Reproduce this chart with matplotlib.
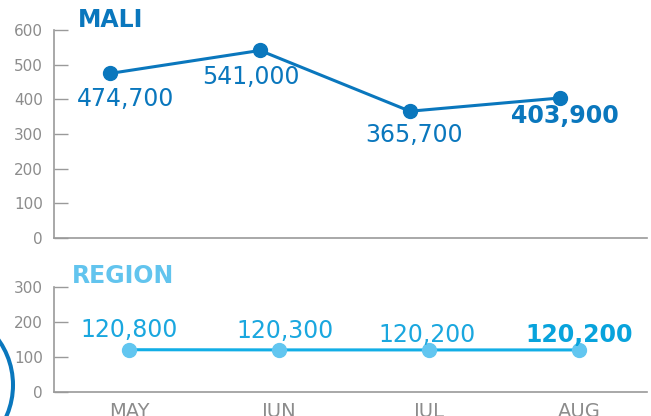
import matplotlib
matplotlib.use("Agg")
import matplotlib.pyplot as plt
from matplotlib.patches import Circle

plt.rcParams["font.family"] = "DejaVu Sans"

# data (thousands of people)
months = ["MAY", "JUN", "JUL", "AUG"]
mali = [474.7, 541.0, 365.7, 403.9]
region = [120.8, 120.3, 120.2, 120.2]
mali_ticks = [0, 100, 200, 300, 400, 500, 600]
region_ticks = [0, 100, 200, 300]

# label offsets in points (dx, dy) from each marker
mali_off = [(11.5, -18.4), (-6.5, -19.2), (2.9, -17.1), (3.6, -13.0)]
region_off = [(0, 14.2), (4.3, 13.4), (-1.4, 10.8), (0, 10.8)]

dark_blue = "#0a77bd"
light_line = "#12aee6"
light_marker = "#62c6f0"
light_text = "#1aa7df"
gray = "#8c8c8c"
spine_gray = "#9a9a9a"


def style_axis(ax, yticks):
    for s in ["top", "right"]:
        ax.spines[s].set_visible(False)
    for s in ["left", "bottom"]:
        ax.spines[s].set_color(spine_gray)
        ax.spines[s].set_linewidth(1.2)
    ax.set_yticks(yticks)
    ax.set_ylim(yticks[0], yticks[-1])
    ax.tick_params(axis="y", direction="in", length=10, width=1.0, color=spine_gray,
                   labelcolor=gray, labelsize=11, pad=8)


def fmt(v):
    return f"{round(v * 1000):,}"


fig = plt.figure(figsize=(6.51, 4.16), dpi=100)

# top panel - Mali
ax_top = fig.add_axes([54 / 651, 178 / 416, 593 / 651, 208 / 416])
x = list(range(len(months)))
ax_top.plot(x, mali, color=dark_blue, lw=2.2, marker="o", ms=10, clip_on=False, zorder=3)
style_axis(ax_top, mali_ticks)
ax_top.set_xlim(-0.3733, 3.58)
ax_top.set_xticks([])
for i, v in enumerate(mali):
    ax_top.annotate(fmt(v), (x[i], v), xytext=mali_off[i], textcoords="offset points",
                    ha="center", va="center", fontsize=17, color=dark_blue,
                    fontweight="bold" if i == len(mali) - 1 else "normal")

# bottom panel - region
ax_bot = fig.add_axes([54 / 651, 24 / 416, 593 / 651, 105 / 416])
ax_bot.plot(x, region, color=light_line, lw=2.2, zorder=2, clip_on=False)
ax_bot.plot(x, region, ls="none", marker="o", ms=10, color=light_marker, zorder=3, clip_on=False)
style_axis(ax_bot, region_ticks)
ax_bot.set_xlim(-0.5, 3.4533)
ax_bot.set_xticks(x, months)
ax_bot.tick_params(axis="x", length=0, labelcolor=gray, labelsize=14, pad=7)
for i, v in enumerate(region):
    ax_bot.annotate(fmt(v), (x[i], v), xytext=region_off[i], textcoords="offset points",
                    ha="center", va="center", fontsize=17,
                    color="#08a3dc" if i == len(region) - 1 else light_text,
                    fontweight="bold" if i == len(region) - 1 else "normal")

# panel titles
fig.text(78 / 651, 1 - 20 / 416, "MALI", ha="left", va="center", fontsize=17,
         fontweight="bold", color=dark_blue)
fig.text(72 / 651, 1 - 276 / 416, "REGION", ha="left", va="center", fontsize=17,
         fontweight="bold", color="#62c4ee")

# decorative circle cut off at the lower left
fig.add_artist(Circle((-0.646, 0.31), 0.776, transform=fig.dpi_scale_trans,
                      fill=False, edgecolor=dark_blue, lw=2.9))

fig.savefig("out.png", dpi=100)
